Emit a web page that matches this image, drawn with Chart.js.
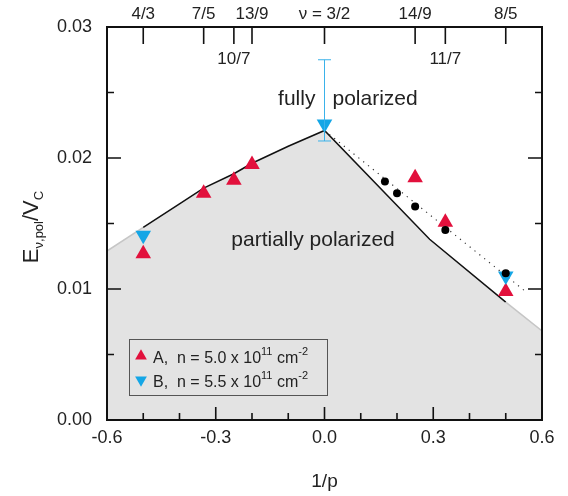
<!DOCTYPE html>
<html lang="en">
<head>
    <meta charset="UTF-8">
    <title>Polarization energy vs 1/p</title>
    <script src="https://cdn.jsdelivr.net/npm/chart.js"></script>
    <style>
        body { margin: 0; background: #ffffff; }
        #wrap { width: 568px; height: 496px; }
    </style>
</head>
<body>
    <div id="wrap"><canvas id="polChart" width="568" height="496"></canvas></div>

    <script>
        // boundary between partially and fully polarized region
        const boundaryX = [-0.6, -0.5, -0.4, -1/3, -0.25, -0.2, -0.1, 0, 0.29, 0.5, 0.6];
        const boundaryY = [0.0129, 0.0147, 0.0165, 0.0177, 0.0188, 0.0196, 0.0209, 0.0221, 0.0138, 0.0090, 0.0068];

        // sample A (red, up triangles)
        const sampleAX = [-0.5, -1/3, -0.25, -0.2, 0.25, 1/3, 0.5];
        const sampleAY = [0.0127, 0.0173, 0.0183, 0.0195, 0.0185, 0.0151, 0.0098];

        // sample B (blue, down triangles)
        const sampleBX = [-0.5, 0, 0.5];
        const sampleBY = [0.0141, 0.0226, 0.0110];
        const errB = { x: 0, low: 0.0213, high: 0.0275 };

        // black dots + dotted guide
        const dotsX = [1/6, 0.2, 0.25, 1/3, 0.5];
        const dotsY = [0.0182, 0.0173, 0.0163, 0.0145, 0.0112];
        const guideX = [0, 0.555];
        const guideY = [0.0221, 0.0098];

        // top axis: filling factors
        const topTickX = [-0.5, -1/3, -0.25, -0.2, 0, 0.25, 1/3, 0.5];
        const topLabels = ['4/3', '7/5', '10/7', '13/9', 'ν = 3/2', '14/9', '11/7', '8/5'];
        const topBelow = [false, false, true, false, false, false, true, false];

        const FONT = '"Liberation Sans", Arial, Helvetica, sans-serif';
        const RED = '#e2103c';
        const BLUE = '#14a6e6';
        const pts = (xs, ys) => xs.map((x, i) => ({ x: x, y: ys[i] }));

        function tri(ctx, x, y, r, down) {
            const s = down ? -1 : 1;
            ctx.beginPath();
            ctx.moveTo(x, y - s * r);
            ctx.lineTo(x + r * 0.866, y + s * r / 2);
            ctx.lineTo(x - r * 0.866, y + s * r / 2);
            ctx.closePath();
            ctx.fill();
        }

        function supText(ctx, parts, x, y) {
            // parts: [text, size, dy]
            parts.forEach(p => {
                ctx.font = p[1] + 'px ' + FONT;
                ctx.fillText(p[0], x, y + p[2]);
                x += ctx.measureText(p[0]).width;
            });
        }

        const framePlugin = {
            id: 'frame',
            afterDatasetsDraw(chart) {
                const { ctx, chartArea: a, scales: { x, y } } = chart;
                ctx.save();

                // error bar on B at nu = 3/2
                const ex = x.getPixelForValue(errB.x);
                const eLo = y.getPixelForValue(errB.low), eHi = y.getPixelForValue(errB.high);
                ctx.strokeStyle = '#3ab2ea';
                ctx.lineWidth = 1;
                ctx.beginPath();
                ctx.moveTo(ex, eLo); ctx.lineTo(ex, eHi);
                ctx.moveTo(ex - 6.5, eLo); ctx.lineTo(ex + 6.5, eLo);
                ctx.moveTo(ex - 6.5, eHi); ctx.lineTo(ex + 6.5, eHi);
                ctx.stroke();

                // region labels
                ctx.fillStyle = '#222';
                ctx.font = '21px ' + FONT;
                ctx.textBaseline = 'middle';
                ctx.textAlign = 'right';
                ctx.fillText('fully', x.getPixelForValue(-0.025), y.getPixelForValue(0.0245));
                ctx.textAlign = 'left';
                ctx.fillText('polarized', x.getPixelForValue(0.022), y.getPixelForValue(0.0245));
                ctx.fillText('partially polarized', x.getPixelForValue(-0.257), y.getPixelForValue(0.0137));

                // legend
                ctx.fillStyle = '#e3e3e3';
                ctx.fillRect(129, 339, 198, 56);
                ctx.strokeStyle = '#555';
                ctx.lineWidth = 1;
                ctx.strokeRect(129.5, 339.5, 198, 56);
                ctx.fillStyle = RED; tri(ctx, 141, 356, 6.8, false);
                ctx.fillStyle = BLUE; tri(ctx, 141, 380, 6.8, true);
                ctx.fillStyle = '#222';
                ctx.textBaseline = 'alphabetic';
                ctx.textAlign = 'left';
                supText(ctx, [['A,  n = 5.0 x 10', 16, 0], ['11', 11, -8], [' cm', 16, 0], ['-2', 11, -8]], 153, 363);
                supText(ctx, [['B,  n = 5.5 x 10', 16, 0], ['11', 11, -8], [' cm', 16, 0], ['-2', 11, -8]], 153, 387);

                // frame
                ctx.strokeStyle = '#111';
                ctx.lineWidth = 2;
                ctx.strokeRect(a.left, a.top, a.width, a.height);

                // inward ticks
                ctx.lineWidth = 1.6;
                ctx.beginPath();
                x.ticks.forEach(t => {
                    const px = x.getPixelForValue(t.value);
                    const len = t.label ? 13 : 7;
                    ctx.moveTo(px, a.bottom); ctx.lineTo(px, a.bottom - len);
                });
                y.ticks.forEach(t => {
                    const py = y.getPixelForValue(t.value);
                    const len = t.label ? 14 : 7;
                    ctx.moveTo(a.left, py); ctx.lineTo(a.left + len, py);
                    ctx.moveTo(a.right, py); ctx.lineTo(a.right - len, py);
                });
                topTickX.forEach(v => {
                    const px = x.getPixelForValue(v);
                    ctx.moveTo(px, a.top); ctx.lineTo(px, a.top + 17);
                });
                ctx.stroke();

                // top labels
                ctx.fillStyle = '#222';
                ctx.font = '17px ' + FONT;
                ctx.textAlign = 'center';
                ctx.textBaseline = 'middle';
                topTickX.forEach((v, i) => {
                    const px = x.getPixelForValue(v);
                    ctx.fillText(topLabels[i], px, topBelow[i] ? a.top + 32 : a.top - 13);
                });

                // y axis title  E_{nu,pol}/V_C
                ctx.translate(31, 227);
                ctx.rotate(-Math.PI / 2);
                ctx.textAlign = 'left';
                ctx.textBaseline = 'alphabetic';
                const parts = [['E', 22, 0], ['ν,pol', 13, 5], ['/V', 22, 0], ['C', 13, 5]];
                let w = 0;
                parts.forEach(p => { ctx.font = p[1] + 'px ' + FONT; w += ctx.measureText(p[0]).width; });
                supText(ctx, parts, -w / 2, 7);

                ctx.restore();
            }
        };

        const ctx = document.getElementById('polChart').getContext('2d');
        new Chart(ctx, {
            type: 'scatter',
            data: {
                datasets: [
                    {
                        // shaded partially polarized region
                        type: 'line',
                        data: pts(boundaryX, boundaryY),
                        fill: 'origin',
                        backgroundColor: '#e3e3e3',
                        borderWidth: 0,
                        pointRadius: 0,
                        tension: 0,
                        order: 11
                    },
                    {
                        // its boundary, grey at the ends
                        type: 'line',
                        data: pts(boundaryX, boundaryY),
                        fill: false,
                        borderColor: '#111',
                        borderWidth: 1.5,
                        segment: {
                            borderColor: c => (c.p1.parsed.x < -0.499 || c.p0.parsed.x > 0.499) ? '#c6c6c6' : '#111'
                        },
                        pointRadius: 0,
                        tension: 0,
                        order: 10
                    },
                    {
                        type: 'line',
                        data: pts(guideX, guideY),
                        borderColor: '#333',
                        borderWidth: 1.2,
                        borderDash: [1.2, 5],
                        pointRadius: 0,
                        fill: false,
                        order: 9
                    },
                    {
                        data: pts(sampleAX, sampleAY),
                        pointStyle: 'triangle',
                        pointRadius: 9,
                        backgroundColor: RED,
                        borderColor: RED,
                        borderWidth: 0,
                        order: 3
                    },
                    {
                        data: pts(sampleBX, sampleBY),
                        pointStyle: 'triangle',
                        pointRotation: 180,
                        pointRadius: 9,
                        backgroundColor: BLUE,
                        borderColor: BLUE,
                        borderWidth: 0,
                        order: 2
                    },
                    {
                        data: pts(dotsX, dotsY),
                        pointStyle: 'circle',
                        pointRadius: 4,
                        backgroundColor: '#000',
                        borderWidth: 0,
                        order: 1
                    }
                ]
            },
            options: {
                responsive: false,
                animation: false,
                devicePixelRatio: 1,
                layout: { padding: { top: 27, right: 26, left: 0, bottom: 0 } },
                plugins: {
                    legend: { display: false },
                    tooltip: { enabled: false }
                },
                scales: {
                    x: {
                        type: 'linear',
                        min: -0.6,
                        max: 0.6,
                        grid: { drawOnChartArea: false, drawTicks: false },
                        border: { display: false },
                        ticks: {
                            stepSize: 0.1,
                            autoSkip: false,
                            maxRotation: 0,
                            padding: 7,
                            color: '#222',
                            font: { family: FONT, size: 18 },
                            callback: v => Math.abs(v / 0.3 - Math.round(v / 0.3)) < 1e-6 ? v.toFixed(1) : ''
                        },
                        title: {
                            display: true,
                            text: '1/p',
                            color: '#222',
                            font: { family: FONT, size: 19 },
                            padding: { top: 0, bottom: 3 }
                        },
                        afterFit: s => { s.height = 76; }
                    },
                    y: {
                        type: 'linear',
                        min: 0,
                        max: 0.03,
                        grid: { drawOnChartArea: false, drawTicks: false },
                        border: { display: false },
                        ticks: {
                            stepSize: 0.005,
                            autoSkip: false,
                            padding: 15,
                            color: '#222',
                            font: { family: FONT, size: 18 },
                            callback: v => Math.abs(v / 0.01 - Math.round(v / 0.01)) < 1e-6 ? v.toFixed(2) : ''
                        },
                        afterFit: s => { s.width = 107; }
                    }
                }
            },
            plugins: [framePlugin]
        });
    </script>
</body>
</html>
